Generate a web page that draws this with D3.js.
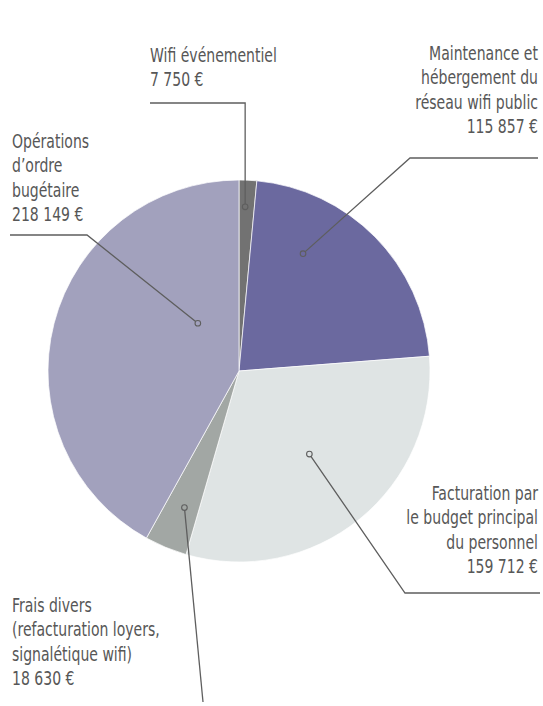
<!DOCTYPE html>
<html>
<head>
<meta charset="utf-8">
<script src="https://cdn.jsdelivr.net/npm/d3@7"></script>
<style>
  body { margin: 0; background: #fff; }
  svg text { font-family: "DejaVu Sans Condensed", "Liberation Sans Narrow", sans-serif; fill: #575757; }
</style>
</head>
<body>
<svg id="chart" width="543" height="706"></svg>
<script>
// Chart data
var categories = ['Wifi événementiel',
                  'Maintenance et hébergement du réseau wifi public',
                  'Facturation par le budget principal du personnel',
                  'Frais divers (refacturation loyers, signalétique wifi)',
                  'Opérations d’ordre bugétaire'];
var values = [7750, 115857, 159712, 18630, 218149];
var labelLines = [['Wifi événementiel'],
                  ['Maintenance et', 'hébergement du', 'réseau wifi public'],
                  ['Facturation par', 'le budget principal', 'du personnel'],
                  ['Frais divers', '(refacturation loyers,', 'signalétique wifi)'],
                  ['Opérations', 'd’ordre', 'bugétaire']];
var colors = ['#727272', '#6b699f', '#dfe4e4', '#a2a7a4', '#a2a1bd'];

// Label layout: where the dot sits in the slice (t = share of the slice angle,
// rf = share of the radius), where the leader line bends and ends, text anchor
var layout = [
  {t: 0.40, rf: 0.86, bend: [null, 103], end: [150, 103], tx: 150, ty: 62, anchor: 'start'},
  {t: 0.29, rf: 0.70, bend: [410, 158], end: [538, 158], tx: 538, ty: 60, anchor: 'end'},
  {t: 0.49, rf: 0.57, bend: [405, 593], end: [540, 593], tx: 538, ty: 500, anchor: 'end'},
  {t: 0.44, rf: 0.77, bend: null, end: [203, 702], tx: 12, ty: 612, anchor: 'start'},
  {t: 0.73, rf: 0.33, bend: [87, 235], end: [10, 235], tx: 12, ty: 148, anchor: 'start'}
];

var cx = 239, cy = 371, radius = 191, lineHeight = 24.4;
var squeeze = 0.78; // labels use a narrow type

var fmt = function(v) {
  return d3.format(',')(v).replace(/,/g, ' ') + ' €';
};

var svg = d3.select('#chart');
var g = svg.append('g').attr('transform', 'translate(' + cx + ',' + cy + ')');

var pie = d3.pie().sort(null).value(function(d) { return d; });
var arcs = pie(values);
var arc = d3.arc().innerRadius(0).outerRadius(radius);

// Slices
g.selectAll('path.slice')
 .data(arcs)
 .enter()
 .append('path')
 .attr('class', 'slice')
 .attr('d', arc)
 .attr('fill', function(d, i) { return colors[i]; })
 .attr('stroke', '#fff')
 .attr('stroke-width', 0.7);

// Leader lines, dots and labels
arcs.forEach(function(d, i) {
  var l = layout[i];
  var a = d.startAngle + (d.endAngle - d.startAngle) * l.t;
  var r = radius * l.rf;
  var dx = cx + r * Math.sin(a), dy = cy - r * Math.cos(a);

  var pts = [[dx, dy]];
  if (l.bend) {
    pts.push([l.bend[0] === null ? dx : l.bend[0], l.bend[1]]);
  }
  pts.push(l.end);

  svg.append('path')
     .attr('d', d3.line()(pts))
     .attr('fill', 'none')
     .attr('stroke', '#5e5e5e')
     .attr('stroke-width', 1.3);

  svg.append('circle')
     .attr('cx', dx)
     .attr('cy', dy)
     .attr('r', 2.8)
     .attr('fill', colors[i])
     .attr('stroke', '#5e5e5e')
     .attr('stroke-width', 1.1);

  var lines = labelLines[i].concat([fmt(values[i])]);
  var text = svg.append('text')
                .attr('transform', 'translate(' + l.tx + ',0) scale(' + squeeze + ',1)')
                .attr('text-anchor', l.anchor)
                .attr('font-size', 20);
  lines.forEach(function(s, k) {
    text.append('tspan')
        .attr('x', 0)
        .attr('y', l.ty + k * lineHeight)
        .text(s);
  });
});
</script>
</body>
</html>
